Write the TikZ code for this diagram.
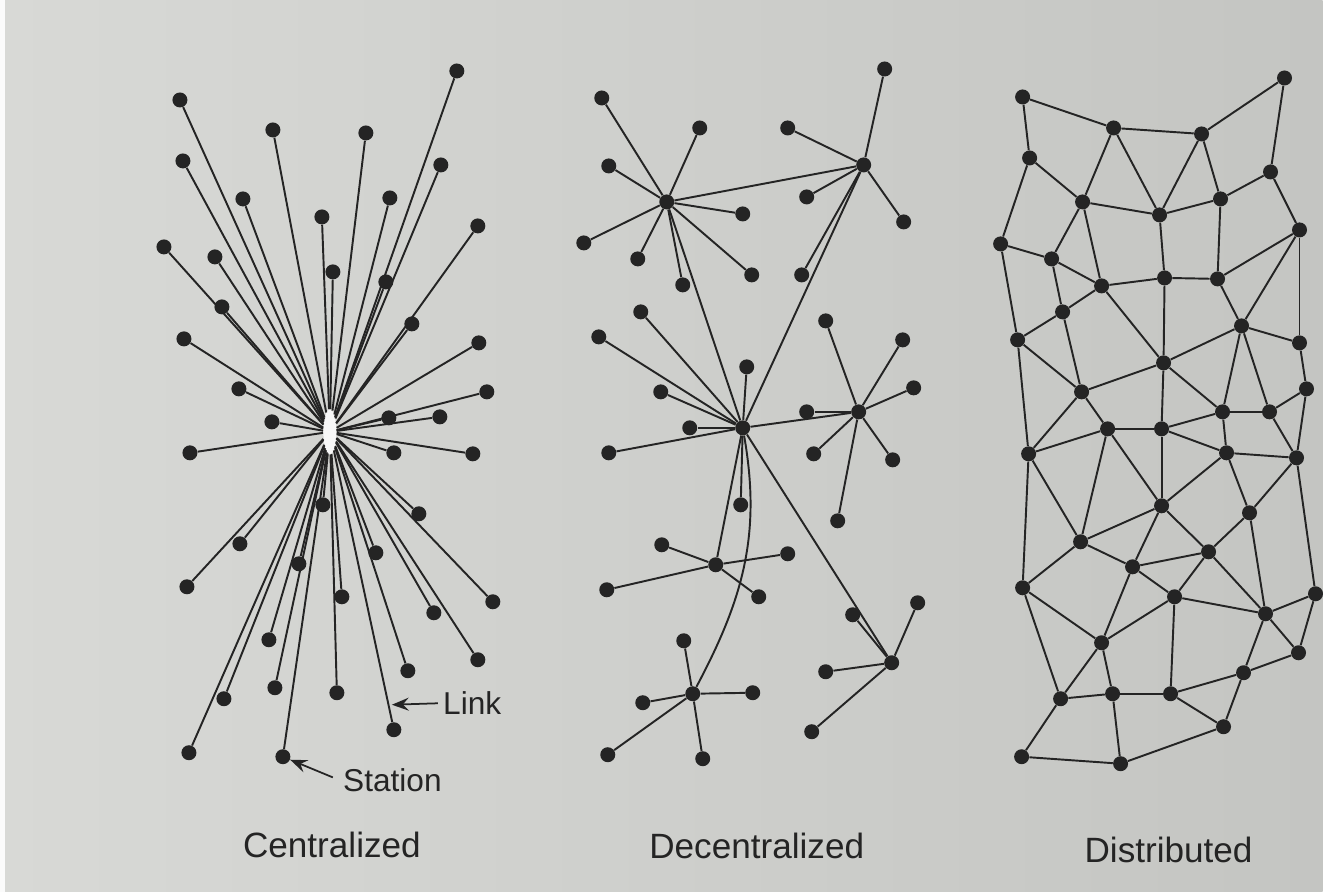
\documentclass[tikz,border=0pt]{standalone}
\usepackage{fontspec}
\setmainfont{Liberation Sans}
\usetikzlibrary{shapes.geometric, arrows.meta}

\definecolor{paperlight}{RGB}{216,217,214}
\definecolor{paperdark}{RGB}{196,197,194}
\definecolor{ink}{RGB}{36,36,36}

\begin{document}
\begin{tikzpicture}[x=0.02cm, y=-0.02cm,
  station/.style={circle, fill=ink, minimum size=0.3cm, inner sep=0pt},
  hubgap/.style={ellipse, fill=white!80!paperlight, minimum width=0.26cm, minimum height=0.9cm, inner sep=0pt},
  wire/.style={draw=ink, line width=1.1pt},
  pointer/.style={draw=ink, line width=1pt, -{Stealth[length=0.34cm, width=0.26cm, inset=0.12cm]}},
  caption/.style={font=\fontsize{20}{24}\selectfont, text=ink, anchor=base},
  tag/.style={font=\fontsize{18}{22}\selectfont, text=ink, anchor=base west, inner sep=0pt}]

% paper
\shade[left color=paperlight, right color=paperdark] (0,0) rectangle (1323,892);
\fill[white!90!paperlight] (0,0) rectangle (5,892);

% Centralized
\node[hubgap] (chub) at (330,432) {};
\foreach \x/\y [count=\i] in {180/100, 457/71, 273/130, 366/133, 183/161, 441/165, 243/199, 390/198,
    322/217, 478/226, 164/247, 215/257, 333/272, 386/282, 222/307, 412/324, 184/339, 479/343,
    239/389, 487/392, 272/422, 389/418, 440/417, 190/453, 394/453, 473/454, 323/505, 419/514,
    240/544, 299/564, 376/553, 187/587, 342/597, 493/602, 434/613, 269/640, 478/660, 408/671,
    224/699, 275/688, 337/693, 394/730, 189/753, 283/757} {
  \node[station] (c\i) at (\x,\y) {};
  \draw[wire] (chub) -- (c\i);
}
\coordinate (linkpt) at (392,705);
\node[tag] (linklabel) at (443,715) {Link};
\draw[pointer] ([xshift=-0.1cm]linklabel.west) -- (linkpt);
\node[tag] (stationlabel) at (343,792) {Station};
\draw[pointer] ([xshift=-0.2cm, yshift=0.06cm]stationlabel.west) -- (c44);

% Decentralized
\node[station] (hA) at (667,202) {};
\node[station] (hB) at (864,165) {};
\node[station] (hC) at (743,428) {};
\node[station] (hD) at (859,412) {};
\node[station] (hE) at (716,565) {};
\node[station] (hF) at (693,694) {};
\node[station] (hG) at (892,663) {};
\draw[wire] (hA) -- (hB);
\draw[wire] (hA) -- (hC);
\draw[wire] (hB) -- (hC);
\draw[wire] (hC) -- (hD);
\draw[wire] (hC) -- (hE);
\draw[wire] (hC) -- (hG);
\draw[wire] (hC) to[out=-80, in=62] (hF);
\foreach \h/\pts in {A/{602/98, 700/128, 609/166, 743/214, 584/243, 638/259, 683/285, 752/275},
    B/{885/69, 788/128, 807/197, 904/222, 802/275},
    C/{641/312, 599/337, 747/367, 661/392, 690/428, 609/453, 741/505},
    D/{826/321, 903/340, 914/388, 807/412, 814/454, 893/460, 838/521},
    E/{662/545, 788/554, 607/590, 759/597},
    F/{684/641, 643/703, 753/693, 608/755, 703/759},
    G/{853/615, 918/603, 826/672, 812/732}} {
  \foreach \x/\y [count=\i] in \pts {
    \node[station] (\h\i) at (\x,\y) {};
    \draw[wire] (h\h) -- (\h\i);
  }
}

% Distributed
\foreach \x/\y [count=\i] in {1023/97, 1285/78, 1114/128, 1202/134, 1030/158, 1271/172, 1083/202,
    1221/199, 1160/215, 1300/230, 1001/244, 1052/259, 1102/286, 1165/278, 1218/279, 1063/312,
    1242/326, 1018/340, 1300/343, 1164/363, 1082/392, 1307/389, 1223/412, 1270/412, 1108/429,
    1162/429, 1029/454, 1227/453, 1297/458, 1162/506, 1250/513, 1081/542, 1209/552, 1133/567,
    1023/588, 1175/597, 1316/594, 1266/614, 1102/643, 1299/653, 1244/673, 1061/699, 1113/694,
    1171/694, 1224/727, 1022/757, 1121/764} {
  \node[station] (d\i) at (\x,\y) {};
}
\foreach \a/\b in {1/3, 1/5, 3/4, 4/2, 2/6, 3/7, 3/9, 4/9, 4/8, 5/7, 5/11, 7/9, 7/12, 7/13,
    9/8, 8/6, 6/10, 9/14, 8/15, 11/12, 11/18, 12/16, 12/13, 13/14, 14/15, 13/16, 15/10, 10/17,
    10/19, 15/17, 14/20, 13/20, 16/18, 16/21, 17/20, 17/19, 17/23, 17/24, 18/21, 18/27, 20/21,
    20/26, 20/23, 19/22, 21/27, 21/25, 22/24, 22/29, 23/24, 23/28, 24/29, 25/26, 25/27, 26/28,
    26/23, 28/29, 27/35, 27/32, 25/30, 25/32, 26/30, 28/30, 28/31, 29/31, 29/37, 30/32, 30/34,
    30/33, 31/33, 31/38, 32/35, 32/34, 34/33, 34/36, 34/39, 33/36, 33/38, 35/39, 35/42, 36/38,
    36/39, 36/44, 37/38, 37/40, 38/40, 38/41, 39/42, 39/43, 40/41, 41/44, 41/45, 42/43, 43/44,
    44/45, 42/46, 43/47, 46/47, 47/45} {
  \draw[wire] (d\a) -- (d\b);
}

% captions
\node[caption] (centralcap) at (332,858) {Centralized};
\node[caption] (decentralcap) at (757,859) {Decentralized};
\node[caption] (distribcap) at (1169,863) {Distributed};
\end{tikzpicture}
\end{document}
